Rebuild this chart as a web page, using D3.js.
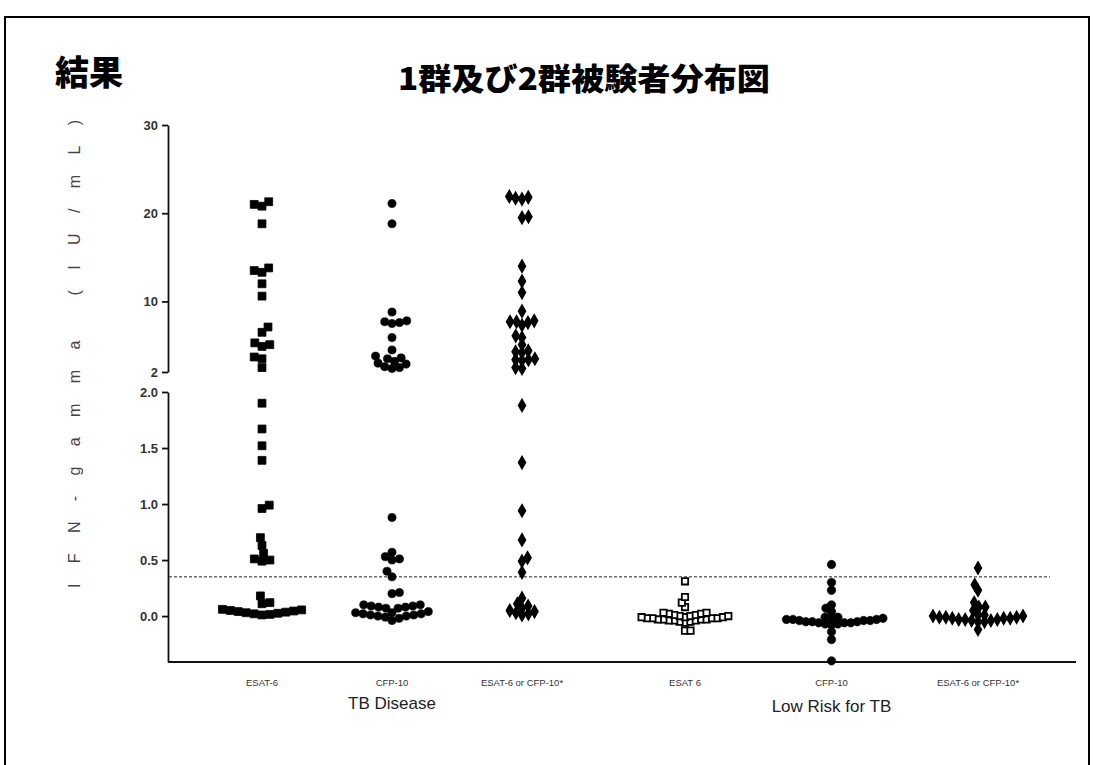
<!DOCTYPE html>
<html>
<head>
<meta charset="utf-8">
<script src="https://cdn.jsdelivr.net/npm/d3@7"></script>
<style>
  html, body { margin: 0; padding: 0; background: #fff; }
  svg { display: block; }
</style>
</head>
<body>
<svg id="chart" width="1093" height="765"></svg>
<script>
// ---- data (IFN-gamma, IU/mL) ----
const groups = ["TB Disease", "Low Risk for TB"];
const tests = ["ESAT-6", "CFP-10", "ESAT-6 or CFP-10*"];
const lowTestLabels = ["ESAT 6", "CFP-10", "ESAT-6 or CFP-10*"];

const tbEsat6 = [21.3, 21.0, 20.8, 18.8, 13.8, 13.5, 13.3, 12.0, 10.6, 7.1, 6.5,
  5.3, 5.1, 4.9, 3.7, 3.5, 2.5, 1.90, 1.67, 1.52, 1.39, 0.99, 0.96, 0.70, 0.63,
  0.56, 0.51, 0.50, 0.49, 0.18, 0.12, 0.11,
  0.06, 0.055, 0.05, 0.045, 0.04, 0.035, 0.03, 0.025, 0.02, 0.015, 0.01];
const tbCfp10 = [21.1, 18.8, 8.8, 7.8, 7.7, 7.6, 7.5, 5.9, 4.5, 3.8, 3.6, 3.5,
  3.2, 3.0, 2.9, 2.6, 2.5, 2.4, 0.88, 0.57, 0.53, 0.51, 0.50, 0.40, 0.35, 0.21,
  0.20, 0.10, 0.10, 0.09, 0.09, 0.08, 0.08, 0.07, 0.07, 0.04, 0.03, 0.03, 0.02,
  0.02, 0.01, 0.01, 0.0, 0.0, -0.01, -0.02, -0.04];
const tbEither = [21.9, 21.8, 21.7, 21.6, 19.6, 19.5, 14.0, 12.3, 11.0, 8.9, 7.8,
  7.7, 7.7, 7.6, 7.3, 6.1, 5.9, 5.1, 4.4, 4.3, 4.2, 3.5, 3.4, 3.4, 3.3, 2.5, 2.4,
  1.88, 1.37, 0.94, 0.68, 0.52, 0.49, 0.39, 0.16, 0.11, 0.09, 0.07, 0.05, 0.04,
  0.03, 0.02, 0.01];
const lowEsat6 = [0.31, 0.17, 0.12, 0.08, 0.03, 0.03, 0.02, 0.02, 0.01, 0.01,
  0.0, 0.0, 0.0, -0.01, -0.01, -0.01, -0.02, -0.02, -0.02, -0.02, -0.03, -0.03,
  -0.03, -0.03, -0.04, -0.04, -0.04, -0.05, -0.05, -0.06, -0.13, -0.13];
const lowCfp10 = [0.46, 0.30, 0.23, 0.10, 0.07, 0.04, -0.01, -0.01, -0.02, -0.02,
  -0.03, -0.03, -0.03, -0.04, -0.04, -0.04, -0.05, -0.05, -0.05, -0.06, -0.06,
  -0.06, -0.07, -0.07, -0.08, -0.14, -0.21, -0.40];
const lowEither = [0.43, 0.28, 0.23, 0.12, 0.08, 0.08, 0.05, 0.01, 0.01, 0.0, 0.0,
  -0.01, -0.01, -0.01, -0.02, -0.02, -0.02, -0.03, -0.03, -0.03, -0.04, -0.04,
  -0.05, -0.05, -0.12];

const cutoff = 0.35;
const topTicks = [2, 10, 20, 30];
const bottomTicks = [0.0, 0.5, 1.0, 1.5, 2.0];

// ---- layout ----
const svg = d3.select("#chart");
const axisX = 168;

// broken y axis: upper segment 2–30, lower segment -0.41–2.0
const yTop = d3.scaleLinear().domain([2, 30]).range([372, 125]);
const yBot = d3.scaleLinear().domain([-0.41, 2.0]).range([662, 392]);
const yOf = v => (v > 2 ? yTop(v) : yBot(v));

const xTB = d3.scalePoint().domain(tests).range([262, 522]);
const xLow = d3.scalePoint().domain(tests).range([685, 978]);

// frame around the slide
svg.append("rect")
  .attr("x", 5).attr("y", 17).attr("width", 1084).attr("height", 770)
  .attr("fill", "none").attr("stroke", "#000").attr("stroke-width", 2);

// headings
svg.append("text")
  .attr("x", 55).attr("y", 85)
  .attr("font-family", "'Noto Sans CJK JP', sans-serif")
  .attr("font-weight", 900).attr("font-size", 34)
  .text("結果");
svg.append("text")
  .attr("x", 398).attr("y", 90)
  .attr("font-family", "'Noto Sans CJK JP', sans-serif")
  .attr("font-weight", 900).attr("font-size", 31)
  .attr("textLength", 372).attr("lengthAdjust", "spacingAndGlyphs")
  .text("1群及び2群被験者分布図");

// y axis title (letter-spaced, rotated)
svg.append("text")
  .attr("transform", `translate(80,354) rotate(-90)`)
  .attr("text-anchor", "middle")
  .attr("font-family", "'Liberation Sans', Arial, sans-serif")
  .attr("font-size", 16).attr("fill", "#444")
  .attr("textLength", 468).attr("lengthAdjust", "spacing")
  .text("IFN-gamma (IU/mL)");

// axes
function styleAxis(g) {
  g.selectAll("path").attr("stroke", "#111").attr("stroke-width", 1.8);
  g.selectAll("line").attr("stroke", "#111").attr("stroke-width", 1.8);
  g.selectAll("text")
    .attr("font-family", "'Liberation Sans', Arial, sans-serif")
    .attr("font-size", 13).attr("font-weight", "bold").attr("fill", "#333");
}
svg.append("g")
  .attr("transform", `translate(${axisX},0)`)
  .call(d3.axisLeft(yTop).tickValues(topTicks).tickFormat(d3.format("d")).tickSize(6).tickSizeOuter(0).tickPadding(4))
  .call(styleAxis);
svg.append("g")
  .attr("transform", `translate(${axisX},0)`)
  .call(d3.axisLeft(yBot).tickValues(bottomTicks).tickFormat(d3.format(".1f")).tickSize(6).tickSizeOuter(0).tickPadding(4))
  .call(styleAxis);

// x axis baseline
svg.append("line")
  .attr("x1", axisX).attr("x2", 1076)
  .attr("y1", yBot(-0.41)).attr("y2", yBot(-0.41))
  .attr("stroke", "#111").attr("stroke-width", 2.2);

// cutoff line
svg.append("line")
  .attr("x1", axisX + 1).attr("x2", 1050)
  .attr("y1", yBot(cutoff)).attr("y2", yBot(cutoff))
  .attr("stroke", "#222").attr("stroke-width", 1)
  .attr("stroke-dasharray", "3,2");

// category labels
const catFont = "'Liberation Sans', Arial, sans-serif";
tests.forEach(t => {
  svg.append("text").attr("x", xTB(t)).attr("y", 686)
    .attr("text-anchor", "middle").attr("font-family", catFont)
    .attr("font-size", 9.5).attr("fill", "#333")
    .text(t);
});
tests.forEach((t, i) => {
  svg.append("text").attr("x", xLow(t)).attr("y", 686)
    .attr("text-anchor", "middle").attr("font-family", catFont)
    .attr("font-size", 9.5).attr("fill", "#333")
    .text(lowTestLabels[i]);
});
svg.append("text").attr("x", xTB("CFP-10")).attr("y", 709)
  .attr("text-anchor", "middle").attr("font-family", catFont)
  .attr("font-size", 17).attr("fill", "#222").text(groups[0]);
svg.append("text").attr("x", xLow("CFP-10")).attr("y", 712)
  .attr("text-anchor", "middle").attr("font-family", catFont)
  .attr("font-size", 17).attr("fill", "#222").text(groups[1]);

// ---- beeswarm placement in pixel space ----
function swarm(values, cx, D) {
  const pts = values.map(v => ({ v, y: yOf(v) })).sort((a, b) => a.v - b.v);
  const placed = [];
  let flip = 1;
  pts.forEach(p => {
    const blocks = [];
    placed.forEach(q => {
      const dy = Math.abs(q.y - p.y);
      if (dy < D) {
        const w = Math.sqrt(D * D - dy * dy);
        blocks.push([q.dx - w, q.dx + w]);
      }
    });
    const cands = [0];
    blocks.forEach(b => { cands.push(b[0], b[1]); });
    const free = c => blocks.every(b => c <= b[0] + 1e-6 || c >= b[1] - 1e-6);
    let best = null;
    cands.filter(free).forEach(c => {
      const score = Math.abs(c) + (Math.sign(c) === flip ? 0 : 1e-3);
      if (best === null || score < best.score) best = { c, score };
    });
    p.dx = best.c;
    if (p.dx !== 0) flip = -flip;
    placed.push(p);
  });
  return pts.map(p => ({ x: cx + p.dx, y: p.y, v: p.v }));
}

const series = [
  { values: tbEsat6, cx: xTB(tests[0]), shape: d3.symbolSquare, size: 62, fill: "#000", stroke: "#000", sw: 0.8, D: 8 },
  { values: tbCfp10, cx: xTB(tests[1]), shape: d3.symbolCircle, size: 52, fill: "#000", stroke: "#000", sw: 0.6, D: 7.5 },
  { values: tbEither, cx: xTB(tests[2]), shape: d3.symbolDiamond, size: 44, fill: "#000", stroke: "#000", sw: 1.4, D: 6.5 },
  { values: lowEsat6, cx: xLow(tests[0]), shape: d3.symbolSquare, size: 40, fill: "#fff", stroke: "#000", sw: 1.8, D: 5.5 },
  { values: lowCfp10, cx: xLow(tests[1]), shape: d3.symbolCircle, size: 56, fill: "#000", stroke: "#000", sw: 0.6, D: 6.5 },
  { values: lowEither, cx: xLow(tests[2]), shape: d3.symbolDiamond, size: 40, fill: "#000", stroke: "#000", sw: 1.6, D: 6.5 }
];

series.forEach(s => {
  const pts = swarm(s.values, s.cx, s.D);
  svg.append("g").selectAll("path")
    .data(pts).join("path")
    .attr("transform", d => `translate(${d.x},${d.y})`)
    .attr("d", d3.symbol().type(s.shape).size(s.size))
    .attr("fill", s.fill).attr("stroke", s.stroke).attr("stroke-width", s.sw);
});
</script>
</body>
</html>
